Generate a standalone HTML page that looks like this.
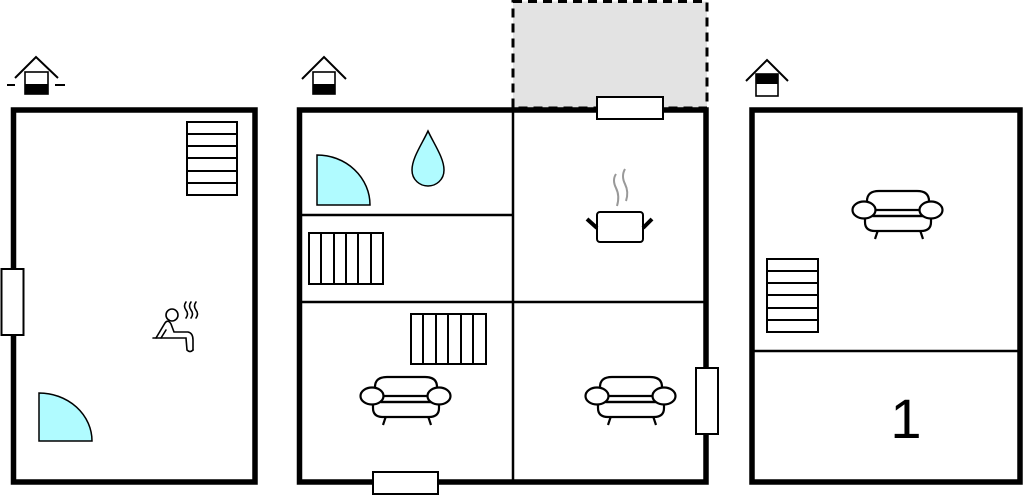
<!DOCTYPE html>
<html><head><meta charset="utf-8"><style>html,body{margin:0;padding:0;background:#fff}svg{display:block}</style></head><body>
<svg width="1024" height="496" viewBox="0 0 1024 496" xmlns="http://www.w3.org/2000/svg">
<defs>
<g id="sofa" fill="#fff" stroke="#000" stroke-width="2.2">
<line x1="-19" y1="16" x2="-22" y2="25"/><line x1="23" y1="16" x2="26" y2="25"/>
<path d="M-30,-4 L-30,-13 Q-30,-23 -18,-23 L20,-23 Q32,-23 32,-13 L32,-4 Z"/>
<path d="M-32,2 L-32,8 Q-32,17 -22,17 L24,17 Q34,17 34,8 L34,2 Z"/>
<line x1="-24" y1="2" x2="26" y2="2"/>
<ellipse cx="-33" cy="-4" rx="11.5" ry="8.5"/><ellipse cx="34" cy="-4" rx="11.5" ry="8.5"/>
</g>
</defs>

<!-- dashed extension -->
<rect x="513" y="1.5" width="194" height="106.5" fill="#e3e3e3" stroke="#000" stroke-width="3" stroke-dasharray="9,6"/>

<!-- buildings -->
<rect x="13.5" y="110" width="241.5" height="372" fill="none" stroke="#000" stroke-width="5.5"/>
<rect x="299.5" y="110" width="406.5" height="372" fill="none" stroke="#000" stroke-width="5.5"/>
<rect x="752" y="110" width="268" height="372" fill="none" stroke="#000" stroke-width="5.5"/>

<!-- interior walls -->
<g stroke="#000" stroke-width="2.5">
<line x1="513" y1="108" x2="513" y2="482"/>
<line x1="299" y1="302" x2="706" y2="302"/>
<line x1="299" y1="215" x2="513" y2="215"/>
<line x1="752" y1="351" x2="1020" y2="351"/>
</g>

<!-- windows -->
<g fill="#fff" stroke="#000" stroke-width="2">
<rect x="1.5" y="269" width="22" height="66"/>
<rect x="597" y="97" width="66" height="22"/>
<rect x="373" y="472" width="65" height="22"/>
<rect x="696" y="368" width="22" height="66"/>
</g>

<!-- stairs -->
<g fill="#fff" stroke="#000" stroke-width="2">
<rect x="187" y="122" width="50" height="73"/>
<line x1="187" y1="134" x2="237" y2="134"/><line x1="187" y1="146" x2="237" y2="146"/><line x1="187" y1="158" x2="237" y2="158"/><line x1="187" y1="171" x2="237" y2="171"/><line x1="187" y1="183" x2="237" y2="183"/>
<rect x="767" y="259" width="51" height="73"/>
<line x1="767" y1="271" x2="818" y2="271"/><line x1="767" y1="283" x2="818" y2="283"/><line x1="767" y1="295" x2="818" y2="295"/><line x1="767" y1="308" x2="818" y2="308"/><line x1="767" y1="320" x2="818" y2="320"/>
<!-- radiators -->
<rect x="309" y="233" width="74" height="51"/>
<line x1="321" y1="233" x2="321" y2="284"/><line x1="334" y1="233" x2="334" y2="284"/><line x1="346" y1="233" x2="346" y2="284"/><line x1="358" y1="233" x2="358" y2="284"/><line x1="371" y1="233" x2="371" y2="284"/>
<rect x="411" y="314" width="75" height="50"/>
<line x1="423" y1="314" x2="423" y2="364"/><line x1="436" y1="314" x2="436" y2="364"/><line x1="448" y1="314" x2="448" y2="364"/><line x1="461" y1="314" x2="461" y2="364"/><line x1="473" y1="314" x2="473" y2="364"/>
</g>

<!-- doors -->
<g fill="#b0fbff" stroke="#000" stroke-width="1.5">
<path d="M39,441 L39,393 A53,48 0 0 1 92,441 Z"/>
<path d="M317,205 L317,155 A53,50 0 0 1 370,205 Z"/>
<path d="M428,131 C422,144 412,158 412,170 C412,180 420,186 428,186 C436,186 444,180 444,170 C444,158 434,144 428,131 Z"/>
</g>

<!-- pot -->
<g fill="none" stroke="#000">
<rect x="597" y="212" width="46" height="30" rx="3" fill="#fff" stroke-width="2"/>
<line x1="587" y1="219" x2="597" y2="228" stroke-width="4"/>
<line x1="643" y1="228" x2="652" y2="219" stroke-width="4"/>
</g>
<g fill="none" stroke="#999" stroke-width="2">
<path d="M616,174 Q612,180 616,188 Q620,196 617,206"/>
<path d="M625,169 Q621,176 625,184 Q629,192 626,201"/>
</g>

<!-- sofas -->
<use href="#sofa" x="405" y="400"/>
<use href="#sofa" x="630" y="400"/>
<use href="#sofa" x="897" y="214"/>

<!-- sauna -->
<g fill="none" stroke="#000" stroke-width="1.6" stroke-linecap="round">
<circle cx="172" cy="315" r="6"/>
<path d="M156,338 L165,323 Q168,319 171,324 L174,332 L188,332 Q193,333 193,340 L193,350"/>
<path d="M161,338 L166,330"/>
<path d="M153,338 L186,338 L187,350 Q190,353 193,350"/>
<path d="M186,302 Q183,306 186,310 Q189,314 186,318"/>
<path d="M191,302 Q188,306 191,310 Q194,314 191,318"/>
<path d="M196,302 Q193,306 196,310 Q199,314 196,318"/>
</g>

<!-- house icons -->
<g stroke="#000" fill="none" stroke-width="2">
<polyline points="15,78 36,57 58,78"/>
<line x1="7" y1="85" x2="15" y2="85"/><line x1="55" y1="85" x2="65" y2="85"/>
<rect x="25" y="72" width="23" height="22" fill="#fff" stroke-width="1.6"/>
<polyline points="302,79 324,57 346,79"/>
<rect x="313" y="72" width="22" height="22" fill="#fff" stroke-width="1.6"/>
<polyline points="746,81 767,60 788,81"/>
<rect x="756" y="74" width="22" height="22" fill="#fff" stroke-width="1.6"/>
</g>
<rect x="25" y="84" width="23" height="10" fill="#000"/>
<rect x="313" y="84" width="22" height="10" fill="#000"/>
<rect x="756" y="74" width="22" height="10" fill="#000"/>

<text x="906" y="438" font-family="Liberation Sans, sans-serif" font-size="56" text-anchor="middle" fill="#000">1</text>
</svg>
</body></html>
